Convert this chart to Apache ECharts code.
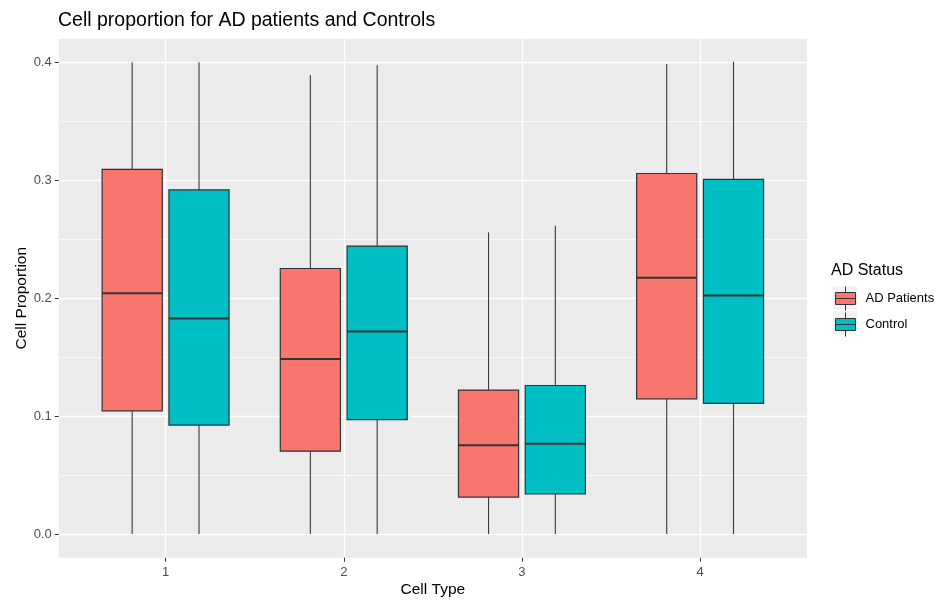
<!DOCTYPE html>
<html>
<head>
<meta charset="utf-8">
<script src="https://cdn.jsdelivr.net/npm/echarts@6/dist/echarts.min.js"></script>
<style>
  html, body { margin: 0; padding: 0; background: #fff; }
  #chart { width: 935px; height: 600px; }
</style>
</head>
<body>
<div id="chart"></div>
<script>
// cell types on the x axis
const cellTypes = [1, 2, 3, 4];
// box stats per cell type: [lower whisker, Q1, median, Q3, upper whisker]
const adPatients = [
    [0, 0.1045, 0.2042, 0.3093, 0.4000],
    [0, 0.0703, 0.1484, 0.2252, 0.3892],
    [0, 0.0314, 0.0754, 0.1221, 0.2558],
    [0, 0.1147, 0.2173, 0.3057, 0.3986],
];
const controls = [
    [0, 0.0924, 0.1827, 0.2918, 0.4000],
    [0, 0.0971, 0.1717, 0.2442, 0.3974],
    [0, 0.0340, 0.0765, 0.1260, 0.2615],
    [0, 0.1108, 0.2023, 0.3008, 0.4005],
];
const yTicks = [0, 0.1, 0.2, 0.3, 0.4];
const yMinorTicks = [0.05, 0.15, 0.25, 0.35];

const FONT = "Liberation Sans, Arial, sans-serif";
const BOX_W = 0.3375;   // dodged box width in x units
const DODGE = 0.1875;   // half of dodge width
const colors = { ad: "#F8766D", control: "#00BFC4" };

const chart = echarts.init(document.getElementById("chart"));

function boxRenderer(offset, fill) {
    return function (params, api) {
        const x = api.value(0) + offset;
        const tl = api.coord([x - BOX_W / 2, api.value(4)]);
        const br = api.coord([x + BOX_W / 2, api.value(2)]);
        const medL = api.coord([x - BOX_W / 2, api.value(3)]);
        const medR = api.coord([x + BOX_W / 2, api.value(3)]);
        const wLo = api.coord([x, api.value(1)]);
        const wHi = api.coord([x, api.value(5)]);
        const whisker = { stroke: "#3a3a3a", lineWidth: 1.1 };
        return {
            type: "group",
            children: [
                { type: "line", shape: { x1: wHi[0], y1: wHi[1], x2: wHi[0], y2: tl[1] }, style: whisker },
                { type: "line", shape: { x1: wLo[0], y1: br[1], x2: wLo[0], y2: wLo[1] }, style: whisker },
                {
                    type: "rect",
                    shape: { x: tl[0], y: tl[1], width: br[0] - tl[0], height: br[1] - tl[1] },
                    style: { fill: fill, stroke: "#333333", lineWidth: 1.2 },
                },
                { type: "line", shape: { x1: medL[0], y1: medL[1], x2: medR[0], y2: medR[1] }, style: { stroke: "#333333", lineWidth: 2 } },
            ],
        };
    };
}

const legendIcon = "path://M0,0L0,0M24,24L24,24M2,6L22,6L22,18L2,18ZM2,12L22,12M12,0L12,6M12,18L12,24";

const option = {
    backgroundColor: "#ffffff",
    animation: false,
    textStyle: { fontFamily: FONT },
    title: [
        {
            text: "Cell proportion for AD patients and Controls",
            left: 58,
            top: 11,
            padding: 0,
            textStyle: { fontSize: 19.5, fontWeight: "normal", color: "#000", fontFamily: FONT },
        },
        {
            text: "AD Status",
            left: 831,
            top: 263,
            padding: 0,
            textStyle: { fontSize: 16, fontWeight: "normal", color: "#000", fontFamily: FONT },
        },
    ],
    graphic: [
        { type: "rect", left: 833, top: 286, shape: { width: 24, height: 23.5 }, style: { fill: "#F2F2F2" }, z: 0 },
        { type: "rect", left: 833, top: 311, shape: { width: 24, height: 23.5 }, style: { fill: "#F2F2F2" }, z: 0 },
    ],
    legend: {
        orient: "vertical",
        left: 833,
        top: 286,
        itemWidth: 24,
        itemHeight: 24,
        itemGap: 1,
        textStyle: { fontSize: 13, color: "#000", fontFamily: FONT, padding: [0, 0, 0, 3] },
        data: [
            { name: "AD Patients", icon: legendIcon, itemStyle: { color: colors.ad, borderColor: "#333333", borderWidth: 1 } },
            { name: "Control", icon: legendIcon, itemStyle: { color: colors.control, borderColor: "#333333", borderWidth: 1 } },
        ],
        padding: 0,
        selectedMode: false,
    },
    grid: {
        left: 58.7,
        right: 128,
        top: 38.7,
        bottom: 42.3,
        outerBoundsMode: "none",
        containLabel: false,
        show: true,
        backgroundColor: "#EBEBEB",
        borderWidth: 0,
    },
    xAxis: {
        type: "value",
        min: 0.4,
        max: 4.6,
        name: "Cell Type",
        nameLocation: "middle",
        nameGap: 24.5,
        nameMoveOverlap: false,
        nameTextStyle: { fontSize: 15.5, color: "#000", fontFamily: FONT },
        axisLine: { show: false, onZero: false },
        axisTick: { show: true, customValues: cellTypes, length: 4, lineStyle: { color: "#333333" } },
        axisLabel: { customValues: cellTypes, color: "#4D4D4D", fontSize: 13, margin: 8 },
        splitLine: { show: true, lineStyle: { color: "#ffffff", width: 1.4 } },
    },
    yAxis: [
        {
            type: "value",
            min: -0.02,
            max: 0.42,
            name: "Cell Proportion",
            nameLocation: "middle",
            nameGap: 29,
            nameMoveOverlap: false,
            nameTextStyle: { fontSize: 15.5, color: "#000", fontFamily: FONT },
            axisLine: { show: false, onZero: false },
            axisTick: { show: true, customValues: yTicks, length: 4, lineStyle: { color: "#333333" } },
            axisLabel: {
                customValues: yTicks,
                color: "#4D4D4D",
                fontSize: 13,
                margin: 7,
                formatter: (v) => v.toFixed(1),
            },
            splitLine: { show: true, lineStyle: { color: "#ffffff", width: 1.4 } },
        },
        {
            type: "value",
            min: -0.02,
            max: 0.42,
            position: "left",
            axisLine: { show: false, onZero: false },
            axisTick: { show: false, customValues: yMinorTicks },
            axisLabel: { show: false, customValues: yMinorTicks },
            splitLine: { show: true, lineStyle: { color: "#ffffff", width: 0.7 } },
        },
    ],
    series: [
        {
            name: "AD Patients",
            type: "custom",
            renderItem: boxRenderer(-DODGE, colors.ad),
            itemStyle: { color: colors.ad },
            encode: { x: 0, y: [1, 2, 3, 4, 5] },
            data: cellTypes.map((c, i) => [c].concat(adPatients[i])),
            z: 3,
        },
        {
            name: "Control",
            type: "custom",
            renderItem: boxRenderer(DODGE, colors.control),
            itemStyle: { color: colors.control },
            encode: { x: 0, y: [1, 2, 3, 4, 5] },
            data: cellTypes.map((c, i) => [c].concat(controls[i])),
            z: 3,
        },
    ],
};

chart.setOption(option);
</script>
</body>
</html>
